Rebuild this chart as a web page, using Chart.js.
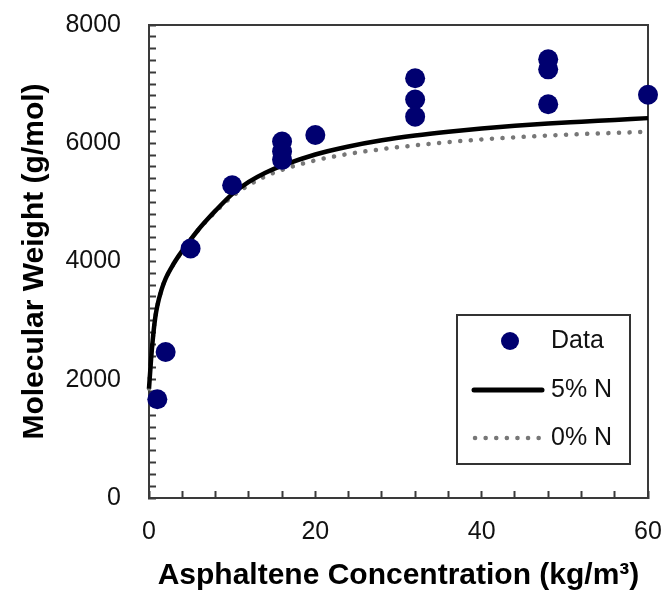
<!DOCTYPE html>
<html>
<head>
<meta charset="utf-8">
<script src="https://cdn.jsdelivr.net/npm/chart.js@4.4.1/dist/chart.umd.min.js"></script>
<style>
  html, body { margin: 0; padding: 0; background: #fff; }
  #wrap { width: 664px; height: 602px; position: relative; }
</style>
</head>
<body>
<div id="wrap"><canvas id="mwChart"></canvas></div>
<script>
// --- datos ---
const dataConc = [1, 2, 5, 10, 16, 16, 16, 20, 32, 32, 32, 48, 48, 48, 60];
const dataMw = [1670, 2470, 4220, 5290, 6030, 5860, 5720, 6140, 7100, 6740, 6450, 7420, 7250, 6660, 6820];

const curveConc = [0, 0.25, 0.5, 0.75, 1, 1.5, 2, 3, 4, 5, 6, 7, 8, 10, 12, 14, 16, 20, 24, 28, 32, 36, 40, 44, 48, 52, 56, 60];
const mw5N = [1850, 2350, 2750, 3050, 3250, 3520, 3710, 3970, 4180, 4370, 4550, 4710, 4860, 5140, 5345, 5500, 5620, 5810, 5945, 6050, 6130, 6195, 6250, 6295, 6335, 6365, 6395, 6425];
const mw0N = [1850, 2350, 2750, 3050, 3250, 3520, 3710, 3970, 4180, 4370, 4550, 4700, 4840, 5100, 5290, 5440, 5550, 5710, 5820, 5900, 5965, 6020, 6065, 6100, 6130, 6155, 6175, 6195];

const xTicks = [0, 20, 40, 60];
const yTicks = [0, 2000, 4000, 6000, 8000];
const seriesNames = ['Data', '5% N', '0% N'];

const toXY = (xs, ys) => xs.map((x, i) => ({ x: x, y: ys[i] }));

// Quitar el relleno que Chart.js agrega por las etiquetas de los extremos
const fixAxis = (s, size) => {
    if (s.isHorizontal()) s.height = size; else s.width = size;
    s.paddingTop = 0;
    s.paddingBottom = 0;
    s.paddingLeft = 0;
    s.paddingRight = 0;
};

// Marco completo alrededor del area del grafico
const framePlugin = {
    id: 'frame',
    beforeDatasetsDraw(chart) {
        const { ctx, chartArea: a } = chart;
        ctx.save();
        ctx.strokeStyle = '#3a3a3a';
        ctx.lineWidth = 2;
        ctx.strokeRect(a.left, a.top, a.right - a.left, a.bottom - a.top);
        ctx.restore();
    }
};

// Leyenda dentro del grafico, con recuadro
const boxLegendPlugin = {
    id: 'boxLegend',
    afterDraw(chart) {
        const { ctx, chartArea: a } = chart;
        const ds = chart.data.datasets;
        const x0 = a.right - 191, y0 = a.bottom - 183, w = 173, h = 149;
        ctx.save();
        ctx.fillStyle = '#fff';
        ctx.fillRect(x0, y0, w, h);
        ctx.strokeStyle = '#333';
        ctx.lineWidth = 2;
        ctx.strokeRect(x0, y0, w, h);

        const rows = [y0 + 26, y0 + 75, y0 + 123];
        // Data: circulo
        ctx.fillStyle = ds[0].backgroundColor;
        ctx.beginPath();
        ctx.arc(x0 + 53, rows[0], 9, 0, Math.PI * 2);
        ctx.fill();
        // 5% N: linea solida
        ctx.strokeStyle = ds[1].borderColor;
        ctx.lineWidth = 5;
        ctx.lineCap = 'round';
        ctx.beginPath();
        ctx.moveTo(x0 + 17, rows[1]);
        ctx.lineTo(x0 + 85, rows[1]);
        ctx.stroke();
        // 0% N: punteada
        ctx.strokeStyle = ds[2].borderColor;
        ctx.lineWidth = 4.5;
        ctx.setLineDash([0.1, 10.5]);
        ctx.beginPath();
        ctx.moveTo(x0 + 18, rows[2]);
        ctx.lineTo(x0 + 84, rows[2]);
        ctx.stroke();
        ctx.setLineDash([]);

        ctx.fillStyle = '#111';
        ctx.font = '25px "Liberation Sans", Arial, sans-serif';
        ctx.textBaseline = 'middle';
        ctx.textAlign = 'left';
        ctx.fillText(seriesNames[0], x0 + 94, rows[0]);
        ctx.fillText(seriesNames[1], x0 + 94, rows[1]);
        ctx.fillText(seriesNames[2], x0 + 94, rows[2]);
        ctx.restore();
    }
};

const ctx = document.getElementById('mwChart').getContext('2d');
const chart = new Chart(ctx, {
    type: 'scatter',
    data: {
        datasets: [{
            label: seriesNames[0],
            data: toXY(dataConc, dataMw),
            backgroundColor: '#000070',
            borderColor: '#000070',
            pointRadius: 10,
            pointHoverRadius: 10,
            borderWidth: 0,
            clip: false
        }, {
            label: seriesNames[1],
            data: toXY(curveConc, mw5N),
            showLine: true,
            borderColor: '#000',
            borderWidth: 4.5,
            pointRadius: 0,
            cubicInterpolationMode: 'monotone',
            clip: false
        }, {
            label: seriesNames[2],
            data: toXY(curveConc, mw0N),
            showLine: true,
            borderColor: '#777',
            borderWidth: 4.5,
            borderDash: [0.1, 10.5],
            borderCapStyle: 'round',
            pointRadius: 0,
            cubicInterpolationMode: 'monotone',
            clip: false
        }]
    },
    options: {
        responsive: true,
        maintainAspectRatio: false,
        animation: false,
        layout: { padding: { top: 25, right: 16, left: 0, bottom: 0 } },
        plugins: {
            legend: { display: false },
            tooltip: { enabled: false }
        },
        scales: {
            x: {
                type: 'linear',
                min: 0,
                max: 60,
                afterFit: s => fixAxis(s, 104),
                ticks: {
                    stepSize: 4,
                    autoSkip: false,
                    maxRotation: 0,
                    padding: 26,
                    color: '#111',
                    font: { family: '"Liberation Sans", Arial, sans-serif', size: 25 },
                    callback: v => xTicks.includes(v) ? String(v) : ''
                },
                grid: { drawOnChartArea: false, drawTicks: true, tickLength: -7, tickWidth: 2, tickColor: '#3a3a3a' },
                border: { color: '#3a3a3a', width: 2 },
                title: {
                    display: true,
                    text: 'Asphaltene Concentration (kg/m³)',
                    color: '#000',
                    font: { family: '"Liberation Sans", Arial, sans-serif', size: 30, weight: 'bold' },
                    padding: { top: 0, bottom: 8 }
                }
            },
            y: {
                type: 'linear',
                min: 0,
                max: 8000,
                afterFit: s => fixAxis(s, 149),
                ticks: {
                    stepSize: 200,
                    autoSkip: false,
                    padding: 35,
                    color: '#111',
                    font: { family: '"Liberation Sans", Arial, sans-serif', size: 25 },
                    callback: v => yTicks.includes(v) ? String(v) : ''
                },
                grid: { drawOnChartArea: false, drawTicks: true, tickLength: -7, tickWidth: 2, tickColor: '#3a3a3a' },
                border: { color: '#3a3a3a', width: 2 },
                title: {
                    display: true,
                    text: 'Molecular Weight (g/mol)',
                    color: '#000',
                    font: { family: '"Liberation Sans", Arial, sans-serif', size: 30, weight: 'bold' },
                    padding: { top: 17, bottom: 0 }
                }
            }
        }
    },
    plugins: [framePlugin, boxLegendPlugin]
});
</script>
</body>
</html>
